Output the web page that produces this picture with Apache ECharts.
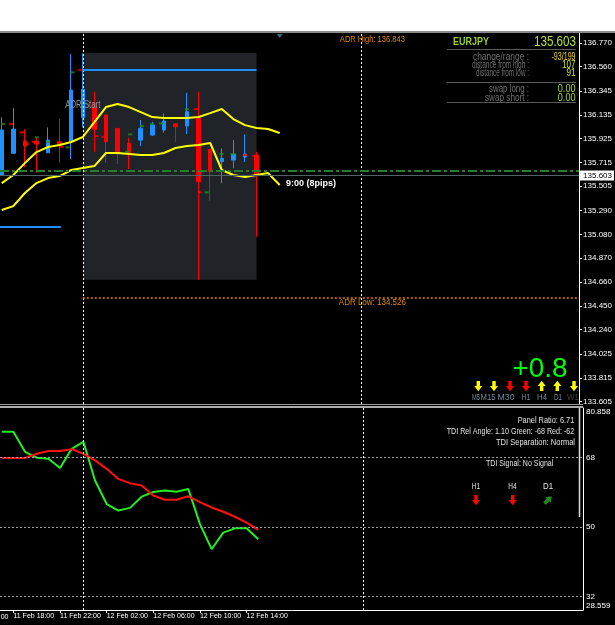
<!DOCTYPE html>
<html>
<head>
<meta charset="utf-8">
<script src="https://cdn.jsdelivr.net/npm/echarts@6/dist/echarts.min.js"></script>
<style>
  html, body { margin: 0; padding: 0; background: #fff; }
  #chart { width: 615px; height: 625px; }
</style>
</head>
<body>
<div id="chart"></div>
<script>
// EURJPY H1, bar 0 = 11 Feb 17:00 ... bar 22 = 12 Feb 15:00
const timeTickIdx = [-3, 1, 5, 9, 13, 17, 21];
const timeTickLabels = ["11 Feb 14:00", "11 Feb 18:00", "11 Feb 22:00", "12 Feb 02:00", "12 Feb 06:00", "12 Feb 10:00", "12 Feb 14:00"];

const priceTicks = [133.605, 133.815, 134.025, 134.240, 134.450, 134.660, 134.870, 135.080,
  135.290, 135.505, 135.715, 135.925, 136.135, 136.345, 136.560, 136.770];

// [open, close, low, high]
const candles = [
  [135.604, 136.000, 135.600, 136.112],
  [135.795, 136.009, 135.790, 136.192],
  [135.903, 135.859, 135.672, 136.007],
  [135.903, 135.877, 135.624, 135.932],
  [135.800, 135.912, 135.798, 136.024],
  [135.897, 135.877, 135.712, 136.097],
  [135.897, 136.353, 135.745, 136.670],
  [136.110, 136.359, 136.024, 136.677],
  [136.236, 136.007, 135.809, 136.338],
  [136.133, 135.897, 135.712, 136.135],
  [136.015, 135.809, 135.701, 136.018],
  [135.883, 135.795, 135.657, 135.932],
  [135.912, 136.015, 135.859, 136.089],
  [135.956, 136.045, 135.950, 136.073],
  [136.000, 136.080, 135.977, 136.148],
  [136.053, 136.029, 135.897, 136.055],
  [136.036, 136.162, 135.965, 136.329],
  [136.103, 135.545, 134.678, 136.338],
  [135.830, 135.633, 135.377, 135.835],
  [135.722, 135.752, 135.530, 135.840],
  [135.736, 135.789, 135.663, 135.912],
  [135.762, 135.789, 135.718, 135.962],
  [135.780, 135.603, 135.060, 135.809]
];

// shifted envelope, runs 2 bars past the last candle
const upperBand = [135.533, 135.604, 135.709, 135.806, 135.851, 135.868, 135.895, 135.939, 136.071,
  136.203, 136.230, 136.203, 136.159, 136.115, 136.106, 136.106, 136.106, 136.115, 136.150, 136.186,
  136.097, 136.044, 136.018, 136.009, 135.974];
const lowerBand = [135.295, 135.330, 135.445, 135.533, 135.577, 135.595, 135.648, 135.666, 135.683,
  135.798, 135.798, 135.789, 135.780, 135.780, 135.798, 135.842, 135.860, 135.868, 135.886, 135.648,
  135.604, 135.586, 135.604, 135.621, 135.516];

// small open/close markers [bar, price]
const greenDashes = [[0.11, 136.053], [3.03, 135.936], [3.97, 135.897], [5.69, 135.848], [6.11, 136.509],
  [10.83, 135.809], [11.09, 135.962], [12.12, 136.036], [12.98, 136.053], [13.75, 136.059],
  [15.98, 136.183], [17.69, 135.451], [18.98, 135.789], [19.92, 135.789]];
const redDashes = [[0.8, 136.053], [1.74, 135.980], [2.17, 135.877], [2.77, 135.897], [5.17, 135.853],
  [6.8, 136.529], [8.17, 135.947], [8.77, 135.941], [15.03, 136.051], [16.75, 136.185],
  [17.09, 135.451], [21.04, 135.780], [21.81, 135.771]];

const dayRange = [7, 22, 136.682, 134.680]; // from bar, to bar, high, low
const blueLevels = [[-0.15, 5.1, 135.148], [7, 22, 136.529]];
const daySeparators = [7, 31];
const bid = 135.603;
const signalLevel = 135.636;
const adrHigh = 136.843;
const adrLow = 134.526;
const topMarker = [[24, 136.829]];

const noteText = ["ADR Start", "ADR High: " + adrHigh.toFixed(3), "ADR Low: " + adrLow.toFixed(3), "9:00 (8pips)"];
const noteBar = [7, 32, 32, 24.55];
const notePrice = [136.223, adrHigh, adrLow, 135.530];

// TDI sub window
const tdiGreen = [74.7, 74.7, 69.5, 68.0, 67.7, 65.3, 70.3, 72.1, 62.1, 56.0, 54.3, 55.0, 57.9, 59.1,
  59.5, 59.2, 59.9, 50.8, 44.3, 48.6, 49.7, 49.7, 46.9];
const tdiRed = [67.9, 67.9, 67.9, 69.0, 69.7, 69.7, 70.2, 69.0, 67.3, 65.1, 62.5, 61.4, 60.8, 58.2,
  57.1, 57.1, 58.0, 56.5, 55.1, 54.0, 52.7, 51.2, 49.3];
const tdiLevels = [68, 50, 32];
const tdiTicks = [28.559, 32, 50, 68, 80.858];

const X_MIN = -0.15;
const X_MAX = 49.85;
const FONT = '"Liberation Sans", Arial, sans-serif';

const chart = echarts.init(document.getElementById("chart"));

const dashed = { type: [2, 2], color: "#ffffff", width: 1 };

const option = {
  backgroundColor: "#000",
  animation: false,
  grid: [
    { left: 0, top: 33, width: 583, height: 371 },
    { left: 0, top: 408, width: 583, height: 202 }
  ],
  xAxis: [
    { gridIndex: 0, type: "value", min: X_MIN, max: X_MAX, show: false },
    {
      gridIndex: 1, type: "value", min: X_MIN, max: X_MAX,
      axisLine: { show: true, onZero: false, lineStyle: { color: "#fff", width: 1 } },
      axisTick: { show: true, customValues: timeTickIdx.filter(v => v > X_MIN), length: 3, lineStyle: { color: "#fff" } },
      axisLabel: {
        show: true, customValues: timeTickIdx.filter(v => v > X_MIN),
        formatter: v => timeTickLabels[timeTickIdx.indexOf(Math.round(v))],
        color: "#fff", fontSize: 7, fontFamily: FONT, align: "left", margin: 3
      },
      splitLine: { show: false }
    }
  ],
  yAxis: [
    {
      gridIndex: 0, type: "value", position: "right", min: 133.585, max: 136.856,
      axisLine: { show: true, onZero: false, lineStyle: { color: "#fff" } },
      axisTick: { show: true, customValues: priceTicks, length: 3, lineStyle: { color: "#fff" } },
      axisLabel: { customValues: priceTicks, formatter: v => v.toFixed(3), color: "#fff", fontSize: 8, fontFamily: FONT, margin: 4 },
      splitLine: { show: false }
    },
    {
      gridIndex: 1, type: "value", position: "right", min: 28.559, max: 80.858,
      axisLine: { show: true, onZero: false, lineStyle: { color: "#fff" } },
      axisTick: { show: false },
      axisLabel: {
        customValues: tdiTicks, formatter: v => (Number.isInteger(v) ? String(v) : v.toFixed(3)),
        color: "#fff", fontSize: 8, fontFamily: FONT, margin: 3,
        verticalAlignMaxLabel: "top", verticalAlignMinLabel: "bottom"
      },
      splitLine: { show: false }
    }
  ],
  series: [
    {
      // day range box + horizontal levels
      type: "line", xAxisIndex: 0, yAxisIndex: 0, data: [], z: 1,
      markArea: {
        silent: true,
        itemStyle: { color: "#202327" },
        data: [[{ coord: [dayRange[0], dayRange[2]] }, { coord: [dayRange[1], dayRange[3]] }]]
      },
      markLine: {
        silent: true, symbol: ["none", "none"], label: { show: false },
        data: [
          ...daySeparators.map(x => ({ xAxis: x, lineStyle: dashed })),
          [{ coord: [dayRange[0], adrLow], lineStyle: { color: "#d98200", type: [2, 2], width: 1.5 } }, { coord: [X_MAX, adrLow] }],
          { yAxis: signalLevel, lineStyle: { color: "#2a7d2a", type: [9, 3, 3, 3], width: 2 } },
          {
            yAxis: bid, lineStyle: { color: "#4c6464", type: "solid", width: 1 },
            label: {
              show: true, position: "end", formatter: bid.toFixed(3), distance: 1,
              color: "#000", backgroundColor: "#fff", fontSize: 8, fontFamily: FONT, padding: [1, 2, 1, 3]
            }
          },
          ...blueLevels.map(l => [
            { coord: [l[0], l[2]], lineStyle: { color: "#1e90ff", type: "solid", width: 2 } },
            { coord: [l[1], l[2]] }
          ])
        ]
      }
    },
    {
      type: "candlestick", xAxisIndex: 0, yAxisIndex: 0, z: 3, barWidth: 4,
      encode: { x: 0, y: [1, 2, 3, 4] },
      itemStyle: { color: "#1e90ff", color0: "#ff0000", borderColor: "#1e90ff", borderColor0: "#ff0000", borderWidth: 1 },
      data: candles.map((c, i) => [i, ...c])
    },
    {
      type: "scatter", xAxisIndex: 0, yAxisIndex: 0, z: 3, symbol: "rect", symbolSize: [4, 2],
      itemStyle: { color: "#1f8f1f" }, data: greenDashes
    },
    {
      type: "scatter", xAxisIndex: 0, yAxisIndex: 0, z: 3, symbol: "rect", symbolSize: [4, 2],
      itemStyle: { color: "#ff0000" }, data: redDashes
    },
    {
      type: "line", xAxisIndex: 0, yAxisIndex: 0, z: 4, showSymbol: false,
      lineStyle: { color: "#ffff00", width: 2 }, data: upperBand.map((v, i) => [i, v])
    },
    {
      type: "line", xAxisIndex: 0, yAxisIndex: 0, z: 4, showSymbol: false,
      lineStyle: { color: "#ffff00", width: 2 }, data: lowerBand.map((v, i) => [i, v])
    },
    {
      type: "scatter", xAxisIndex: 0, yAxisIndex: 0, z: 4, symbol: "triangle", symbolRotate: 180,
      symbolSize: [6, 4], itemStyle: { color: "#3f8c8c" }, data: topMarker
    },
    {
      type: "line", xAxisIndex: 1, yAxisIndex: 1, z: 3, showSymbol: false,
      lineStyle: { color: "#22ee22", width: 2 }, data: tdiGreen.map((v, i) => [i, v]),
      markLine: {
        silent: true, symbol: ["none", "none"], label: { show: false },
        data: [
          ...tdiLevels.map(v => ({ yAxis: v, lineStyle: { color: "#a0a0a0", type: [2, 2], width: 1 } })),
          ...daySeparators.map(x => ({ xAxis: x, lineStyle: dashed }))
        ]
      }
    },
    {
      type: "line", xAxisIndex: 1, yAxisIndex: 1, z: 4, showSymbol: false,
      lineStyle: { color: "#ff1010", width: 2 }, data: tdiRed.map((v, i) => [i, v])
    }
  ]
};

chart.setOption(option);

// ---- overlay texts ----
const measure = document.createElement("canvas").getContext("2d");
function txt(x, y, text, font, fill, align, w) {
  measure.font = font;
  const sx = w ? w / measure.measureText(text).width : 1;
  return {
    type: "text", x: x, y: y, scaleX: sx, z: 100,
    style: { text: text, font: font, fill: fill, align: align, verticalAlign: "middle" }
  };
}
function hline(x1, x2, y, color, width) {
  return { type: "line", z: 100, shape: { x1: x1, y1: y, x2: x2, y2: y }, style: { stroke: color, lineWidth: width } };
}
const ARROW = [[-1.7, -5], [1.7, -5], [1.7, 0], [4, 0], [0, 5.2], [-4, 0], [-1.7, 0]];
function arrow(x, y, rot, fill) {
  return {
    type: "polygon", x: x, y: y, rotation: rot, z: 100,
    shape: { points: ARROW },
    style: { fill: fill }
  };
}

const panelFont = "11px " + FONT;
const tdiFont = "9.5px " + FONT;
const graphics = [
  { type: "rect", z: 100, shape: { x: 0, y: 0, width: 615, height: 31 }, style: { fill: "#fff" } },
  hline(0, 615, 32, "#8a8a8a", 2),
  hline(0, 583, 404.5, "#9a9a9a", 1),
  hline(0, 583, 407, "#e6e6e6", 1.5),
  { type: "line", z: 100, shape: { x1: 579.5, y1: 408, x2: 579.5, y2: 517 }, style: { stroke: "#d8d8d8", lineWidth: 1.5 } },

  // symbol info panel
  txt(453, 42, "EURJPY", "bold 11px " + FONT, "#9acd32", "left", 36),
  txt(576, 42, "135.603", "14px " + FONT, "#b8e23a", "right", 42),
  hline(447, 576, 49.5, "#5a5a5a", 1),
  txt(529, 56.5, "change/range :", panelFont, "#707070", "right", 56),
  txt(529, 64.5, "distance from high :", panelFont, "#707070", "right", 57),
  txt(529, 73, "distance from low :", panelFont, "#707070", "right", 53),
  txt(575.5, 56.5, "-93/199", panelFont, "#e8d418", "right", 24),
  txt(575.5, 64.5, "107", panelFont, "#c8e632", "right", 13.5),
  txt(575.5, 73, "91", panelFont, "#c8e632", "right", 9),
  hline(447, 576, 82.5, "#5a5a5a", 1),
  txt(529, 89, "swap long :", panelFont, "#707070", "right", 40),
  txt(529, 97.5, "swap short :", panelFont, "#707070", "right", 44),
  txt(575.5, 89, "0.00", panelFont, "#a8d838", "right", 17.7),
  txt(575.5, 97.5, "0.00", panelFont, "#a8d838", "right", 17.7),
  hline(447, 576, 102.5, "#5a5a5a", 1),

  // strength panel
  txt(540, 369.5, "+0.8", "28px " + FONT, "#00ff00", "center", 55),
  arrow(478.3, 386, 0, "#ffff00"),
  arrow(494, 386, 0, "#ffff00"),
  arrow(510, 386, 0, "#ff0000"),
  arrow(526, 386, 0, "#ff0000"),
  arrow(541.7, 386, Math.PI, "#ffff00"),
  arrow(557.3, 386, Math.PI, "#ffff00"),
  arrow(574, 386, 0, "#ffff00"),
  txt(476, 397.5, "M5", "8.5px " + FONT, "#74869a", "center", 8),
  txt(488, 397.5, "M15", "8.5px " + FONT, "#74869a", "center", 15),
  txt(506, 397.5, "M30", "8.5px " + FONT, "#74869a", "center", 17),
  txt(526, 397.5, "H1", "8.5px " + FONT, "#74869a", "center", 9),
  txt(542, 397.5, "H4", "8.5px " + FONT, "#74869a", "center", 10),
  txt(558, 397.5, "D1", "8.5px " + FONT, "#74869a", "center", 8),
  txt(573, 397.5, "W1", "8.5px " + FONT, "#3e3e3e", "center", 12),

  // TDI panel
  txt(574.3, 420, "Panel Ratio: 6.71", tdiFont, "#e2e2e2", "right", 56.6),
  txt(574.3, 431, "TDI Rel Angle: 1.10 Green: -68 Red: -62", tdiFont, "#e2e2e2", "right", 127.6),
  txt(575, 442, "TDI Separation: Normal", tdiFont, "#e2e2e2", "right", 79),
  txt(519.7, 463, "TDI Signal: No Signal", tdiFont, "#e2e2e2", "center", 67.3),
  txt(476, 486, "H1", tdiFont, "#e2e2e2", "center", 8.3),
  txt(512.5, 486, "H4", tdiFont, "#e2e2e2", "center", 8.3),
  txt(548, 486, "D1", tdiFont, "#e2e2e2", "center", 10),
  arrow(476, 500, 0, "#ff0000"),
  arrow(512.7, 500, 0, "#ff0000"),
  arrow(548, 500, Math.PI * 3 / 4, "#1e8c1e")
];

// notes anchored on the price scale
const noteStyle = [
  { font: "10px " + FONT, fill: "#8b9096", align: "center", dy: 0, w: 35 },
  { font: "9.5px " + FONT, fill: "#e08a00", align: "center", dy: 5, w: 65 },
  { font: "9.5px " + FONT, fill: "#e08a00", align: "center", dy: 5.5, w: 67 },
  { font: "bold 9px " + FONT, fill: "#ffffff", align: "left", dy: 0, w: 50 }
];
noteText.forEach((t, i) => {
  const p = chart.convertToPixel({ gridIndex: 0 }, [noteBar[i], notePrice[i]]);
  const s = noteStyle[i];
  graphics.push(txt(p[0], p[1] + s.dy, t, s.font, s.fill, s.align, s.w));
});

// time labels that start left of the visible range
timeTickIdx.filter(v => v <= X_MIN).forEach(v => {
  const p = chart.convertToPixel({ gridIndex: 1 }, [v, 28.559]);
  graphics.push(txt(p[0] + 1, 617, timeTickLabels[timeTickIdx.indexOf(v)], "7px " + FONT, "#fff", "left"));
});

chart.setOption({ graphic: graphics });
</script>
</body>
</html>
